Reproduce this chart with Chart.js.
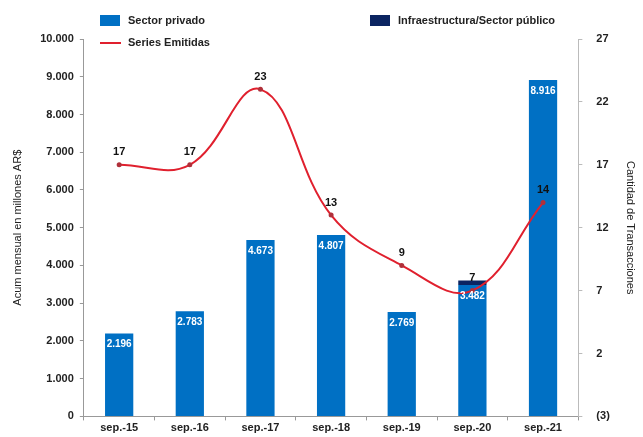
<!DOCTYPE html>
<html>
<head>
<meta charset="utf-8">
<script src="https://cdn.jsdelivr.net/npm/chart.js@4.4.0/dist/chart.umd.min.js"></script>
<style>
  html, body { margin: 0; padding: 0; background: #fff; }
  #wrap { width: 643px; height: 437px; position: relative; }
</style>
</head>
<body>
<div id="wrap"><canvas id="c" width="643" height="437"></canvas></div>
<script>
const categories = ['sep.-15', 'sep.-16', 'sep.-17', 'sep.-18', 'sep.-19', 'sep.-20', 'sep.-21'];
const sectorPrivado = [2196, 2783, 4673, 4807, 2769, 3482, 8916];
const infraestructura = [0, 0, 0, 0, 0, 120, 0];
const seriesEmitidas = [17, 17, 23, 13, 9, 7, 14];
const leftTicks = [0, 1000, 2000, 3000, 4000, 5000, 6000, 7000, 8000, 9000, 10000];
const rightTicks = [-3, 2, 7, 12, 17, 22, 27];

const BLUE = '#0070c4';
const NAVY = '#0b2461';
const RED = '#e0202e';
const FONT = '"Liberation Sans", Arial, sans-serif';

function fmt(n) {
  return n.toString().replace(/\B(?=(\d{3})+(?!\d))/g, '.');
}

const legendPlugin = {
  id: 'customLegend',
  afterDraw(chart) {
    const ctx = chart.ctx;
    ctx.save();
    ctx.font = 'bold 11px ' + FONT;
    ctx.textBaseline = 'middle';
    ctx.textAlign = 'left';
    ctx.fillStyle = BLUE;
    ctx.fillRect(100, 15, 20, 11);
    ctx.fillStyle = '#222';
    ctx.fillText(chart.data.datasets[0].label, 128, 21);
    ctx.fillStyle = NAVY;
    ctx.fillRect(370, 15, 20, 11);
    ctx.fillStyle = '#222';
    ctx.fillText(chart.data.datasets[1].label, 398, 21);
    ctx.strokeStyle = RED;
    ctx.lineWidth = 2;
    ctx.beginPath();
    ctx.moveTo(100, 43);
    ctx.lineTo(121, 43);
    ctx.stroke();
    ctx.fillText(chart.data.datasets[2].label, 128, 43);
    ctx.restore();
  }
};

const labelsPlugin = {
  id: 'valueLabels',
  afterDatasetsDraw(chart) {
    const ctx = chart.ctx;
    ctx.save();
    const m0 = chart.getDatasetMeta(0);
    ctx.font = 'bold 10px ' + FONT;
    ctx.fillStyle = '#fff';
    ctx.textAlign = 'center';
    ctx.textBaseline = 'top';
    m0.data.forEach((el, i) => {
      ctx.fillText(fmt(sectorPrivado[i]), el.x, el.y + 6);
    });
    const m2 = chart.getDatasetMeta(2);
    ctx.font = 'bold 11px ' + FONT;
    ctx.fillStyle = '#111';
    ctx.textBaseline = 'bottom';
    m2.data.forEach((el, i) => {
      ctx.fillText(String(seriesEmitidas[i]), el.x, el.y - 7);
    });
    ctx.restore();
  }
};

new Chart(document.getElementById('c'), {
  data: {
    labels: categories,
    datasets: [
      {
        type: 'bar',
        label: 'Sector privado',
        data: sectorPrivado,
        backgroundColor: BLUE,
        yAxisID: 'y',
        stack: 's',
        order: 2,
        categoryPercentage: 0.8,
        barPercentage: 0.5
      },
      {
        type: 'bar',
        label: 'Infraestructura/Sector público',
        data: infraestructura,
        backgroundColor: NAVY,
        yAxisID: 'y',
        stack: 's',
        order: 2,
        categoryPercentage: 0.8,
        barPercentage: 0.5
      },
      {
        type: 'line',
        label: 'Series Emitidas',
        data: seriesEmitidas,
        borderColor: RED,
        backgroundColor: RED,
        borderWidth: 2,
        pointRadius: 2.5,
        pointBackgroundColor: '#b0303a',
        pointBorderWidth: 0,
        tension: 0.4,
        yAxisID: 'y2',
        order: 1
      }
    ]
  },
  options: {
    responsive: false,
    animation: false,
    layout: { padding: { top: 39, left: 11, right: 0, bottom: -1 } },
    plugins: {
      legend: { display: false },
      tooltip: { enabled: false }
    },
    scales: {
      x: {
        stacked: true,
        offset: true,
        grid: { display: true, drawOnChartArea: false, offset: true, color: '#999', tickLength: 4 },
        border: { display: true, color: '#999' },
        ticks: { color: '#222', font: { family: FONT, size: 11, weight: 'bold' }, padding: 1, maxRotation: 0 }
      },
      y: {
        stacked: true,
        position: 'left',
        min: 0,
        max: 10000,
        afterBuildTicks(axis) { axis.ticks = leftTicks.map(v => ({ value: v })); },
        grid: { display: true, drawOnChartArea: false, color: '#999', tickLength: 4 },
        border: { display: true, color: '#999' },
        ticks: {
          color: '#222',
          font: { family: FONT, size: 11, weight: 'bold' },
          padding: 6,
          callback: v => fmt(v)
        },
        title: {
          display: true,
          text: 'Acum mensual en millones AR$',
          color: '#222',
          font: { family: FONT, size: 11, weight: 'normal' },
          padding: { top: 0, bottom: 10 }
        }
      },
      y2: {
        position: 'right',
        min: -3,
        max: 27,
        afterBuildTicks(axis) { axis.ticks = rightTicks.map(v => ({ value: v })); },
        grid: { display: true, drawOnChartArea: false, color: '#bbb', tickLength: 4 },
        border: { display: true, color: '#bbb' },
        ticks: {
          color: '#222',
          font: { family: FONT, size: 11, weight: 'bold' },
          padding: 14,
          callback: v => v < 0 ? '(' + Math.abs(v) + ')' : String(v)
        },
        title: {
          display: true,
          text: 'Cantidad de Transacciones',
          color: '#222',
          font: { family: FONT, size: 11, weight: 'normal' },
          padding: { top: 6, bottom: 0 }
        }
      }
    }
  },
  plugins: [legendPlugin, labelsPlugin]
});
</script>
</body>
</html>
